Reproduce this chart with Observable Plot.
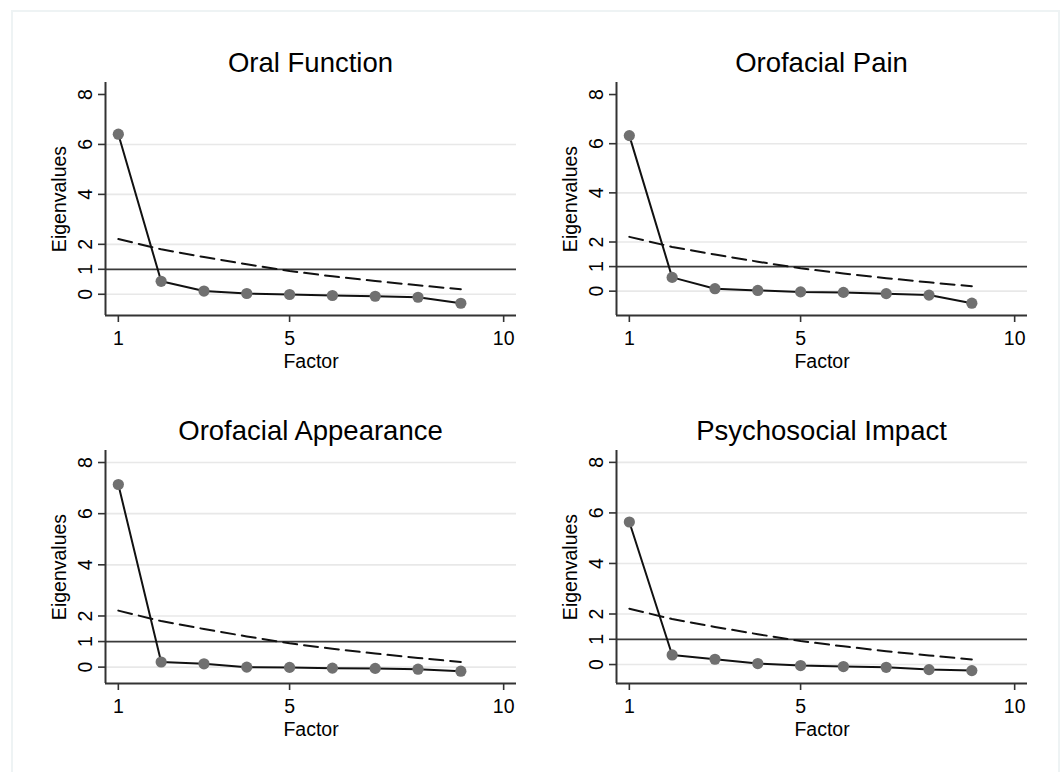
<!DOCTYPE html>
<html>
<head>
<meta charset="utf-8">
<script src="https://cdn.jsdelivr.net/npm/d3@7"></script>
<script src="https://cdn.jsdelivr.net/npm/@observablehq/plot@0.6"></script>
<style>
  html, body { margin: 0; padding: 0; background: #fff; }
  body { width: 1064px; height: 772px; position: relative; overflow: hidden; font-family: Arial, "Liberation Sans", Helvetica, sans-serif; }
  #frame { position: absolute; left: 11px; top: 10px; width: 1049px; height: 800px; border: 2px solid #eef3f4; box-sizing: border-box; }
  .panel { position: absolute; }
  .title { position: absolute; text-align: center; font-size: 27.5px; line-height: 32px; color: #000; white-space: nowrap; }
</style>
</head>
<body>
<div id="frame"></div>
<script>
// ---- data ----
const factors = [1, 2, 3, 4, 5, 6, 7, 8, 9];
const panelTitles = ["Oral Function", "Orofacial Pain", "Orofacial Appearance", "Psychosocial Impact"];
const oralFunction        = [6.41, 0.52, 0.13, 0.03, -0.01, -0.05, -0.08, -0.12, -0.36];
const orofacialPain       = [6.33, 0.56, 0.10, 0.03, -0.03, -0.05, -0.10, -0.16, -0.49];
const orofacialAppearance = [7.14, 0.20, 0.13, 0.00, -0.01, -0.04, -0.05, -0.08, -0.16];
const psychosocialImpact  = [5.64, 0.38, 0.21, 0.04, -0.04, -0.08, -0.11, -0.20, -0.24];
const parallelAnalysis    = [2.21, 1.80, 1.49, 1.20, 0.93, 0.72, 0.53, 0.36, 0.20];
const yTicks = [0, 1, 2, 4, 6, 8];
const xTicks = [1, 5, 10];
const kaiserLine = [1];

const series = [oralFunction, orofacialPain, orofacialAppearance, psychosocialImpact];
const yDomains = [[-0.85, 8.48], [-0.99, 8.49], [-0.64, 8.47], [-0.75, 8.47]];
const gridSets = [[0, 2, 4, 6], [0, 2, 4, 6], [0, 2, 4, 6, 8], [0, 2, 4, 6, 8]];
const lefts = [0, 511, 0, 511];
const tops = [70, 70, 438, 438];
const titleTops = [47, 47, 415, 415];

const W = 532, H = 305, ML = 105, MR = 16, MT = 12, MB = 60;
const FONT = 'Arial, "Liberation Sans", Helvetica, sans-serif';

series.forEach((vals, i) => {
  const pts = factors.map((f, j) => ({factor: f, value: vals[j]}));
  const par = factors.map((f, j) => ({factor: f, value: parallelAnalysis[j]}));
  const yd = yDomains[i];
  const xd = [0.7, 10.3];
  const chart = Plot.plot({
    width: W, height: H,
    marginLeft: ML, marginRight: MR, marginTop: MT, marginBottom: MB,
    style: {fontFamily: FONT, fontSize: "19px", color: "#000", background: "transparent", overflow: "visible"},
    x: {domain: xd},
    y: {domain: yd},
    marks: [
      Plot.ruleY(gridSets[i], {stroke: "#e8e8e8", strokeWidth: 1.6}),
      Plot.ruleY(kaiserLine, {stroke: "#3a3a3a", strokeWidth: 1.8}),
      Plot.line(par, {x: "factor", y: "value", stroke: "#111", strokeWidth: 2, strokeDasharray: "14,7"}),
      Plot.line(pts, {x: "factor", y: "value", stroke: "#111", strokeWidth: 2}),
      Plot.dot(pts, {x: "factor", y: "value", r: 5.6, fill: "#707070", stroke: "none"}),
      Plot.axisY({ticks: yTicks, tickSize: 7, tickPadding: 6.5, tickRotate: -90, tickFormat: d => String(d),
        label: "Eigenvalues", labelAnchor: "center", labelArrow: "none", labelOffset: 53, fontSize: 19.5, stroke: "#333", strokeWidth: 1.6}),
      Plot.axisX({ticks: xTicks, tickSize: 7, tickPadding: 9, tickFormat: d => String(d),
        label: "Factor", labelAnchor: "center", labelArrow: "none", labelOffset: 52.5, fontSize: 19.5, stroke: "#333", strokeWidth: 1.6}),
      Plot.ruleX([xd[0]], {stroke: "#333", strokeWidth: 2}),
      Plot.ruleY([yd[0]], {stroke: "#333", strokeWidth: 2})
    ]
  });
  chart.classList.add("panel");
  chart.style.left = lefts[i] + "px";
  chart.style.top = tops[i] + "px";
  document.body.appendChild(chart);

  const t = document.createElement("div");
  t.className = "title";
  t.textContent = panelTitles[i];
  t.style.left = (lefts[i] + ML) + "px";
  t.style.width = (W - ML - MR) + "px";
  t.style.top = titleTops[i] + "px";
  document.body.appendChild(t);
});
</script>
</body>
</html>
